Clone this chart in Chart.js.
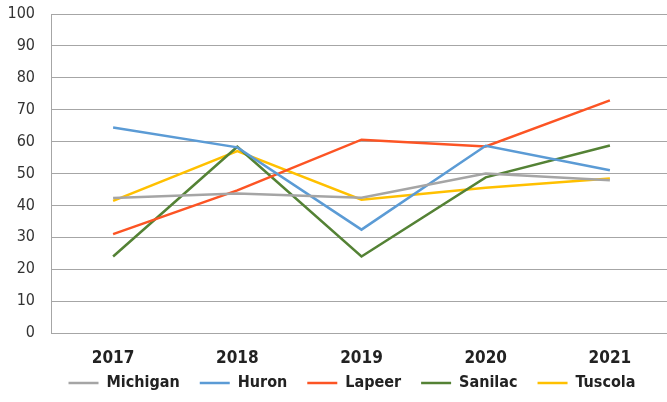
<!DOCTYPE html>
<html>
<head>
<meta charset="utf-8">
<script src="https://cdn.jsdelivr.net/npm/chart.js@4"></script>
<style>
  html, body { margin: 0; padding: 0; background: #fff; overflow: hidden; }
  #wrap { width: 672px; height: 402px; }
</style>
</head>
<body>
<div id="wrap"><canvas id="chLines"></canvas></div>
<script>
// years and county values
var years = ['2017', '2018', '2019', '2020', '2021'];
var michigan = [42.3, 43.7, 42.4, 50.0, 47.9];
var huron    = [64.4, 58.2, 32.4, 58.7, 51.0];
var lapeer   = [31.0, 44.7, 60.6, 58.5, 72.9];
var sanilac  = [24.0, 58.4, 24.0, 48.8, 58.8];
var tuscola  = [41.4, 57.0, 41.8, 45.5, 48.4];

// line colors
var colors = ['#a5a5a5', '#5b9bd5', '#fc5424', '#548235', '#ffc000'];

var fontFamily = '"Liberation Sans Narrow", "DejaVu Sans Condensed", sans-serif';

function series(label, data, color) {
  return {
    label: label,
    data: data,
    borderColor: color,
    backgroundColor: color,
    borderWidth: 2.5,
    pointRadius: 0,
    pointStyle: 'line',
    tension: 0,
    fill: false
  };
}

var lineData = {
  labels: years,
  datasets: [
    series('Michigan', michigan, colors[0]),
    series('Huron', huron, colors[1]),
    series('Lapeer', lapeer, colors[2]),
    series('Sanilac', sanilac, colors[3]),
    series('Tuscola', tuscola, colors[4])
  ]
};

// legend swatches drawn as short lines, wide gaps between items
var lineLegend = {
  position: 'bottom',
  maxHeight: 33,
  labels: {
    usePointStyle: true,
    pointStyle: 'line',
    pointStyleWidth: 30,
    padding: 20,
    color: '#222',
    font: { family: fontFamily, size: 16, weight: 'bold' }
  }
};

// the wide label padding also pushes the legend row down; pull it back up
// (only the top moves, so the legend's clip box still reaches the bottom)
var legendNudge = {
  id: 'legendNudge',
  afterLayout: function(chart) {
    var lg = chart.legend;
    if (!lg) return;
    lg.top -= 14;
    lg.left += 16;
    lg.right += 16;
  }
};

var chLines = document.getElementById('chLines');
if (chLines) {
  new Chart(chLines, {
    type: 'line',
    data: lineData,
    plugins: [legendNudge],
    options: {
      responsive: true,
      maintainAspectRatio: false,
      animation: false,
      layout: { padding: 0 },
      plugins: { legend: lineLegend, tooltip: { enabled: false } },
      scales: {
        x: {
          offset: true,
          grid: { display: false, drawTicks: false },
          border: { display: false },
          ticks: {
            color: '#222',
            padding: 15,
            font: { family: fontFamily, size: 17, weight: 'bold' }
          },
          afterFit: function(scale) { scale.height = 36; }
        },
        y: {
          min: 0,
          max: 100,
          grid: { color: '#a6a6a6', lineWidth: 1, drawTicks: false },
          border: { color: '#a6a6a6' },
          ticks: {
            stepSize: 10,
            color: '#333',
            padding: 16,
            font: { family: fontFamily, size: 16 }
          },
          afterFit: function(scale) {
            scale.width = 51;
            scale.paddingTop = 14;
          }
        }
      }
    }
  });
}
</script>
</body>
</html>
